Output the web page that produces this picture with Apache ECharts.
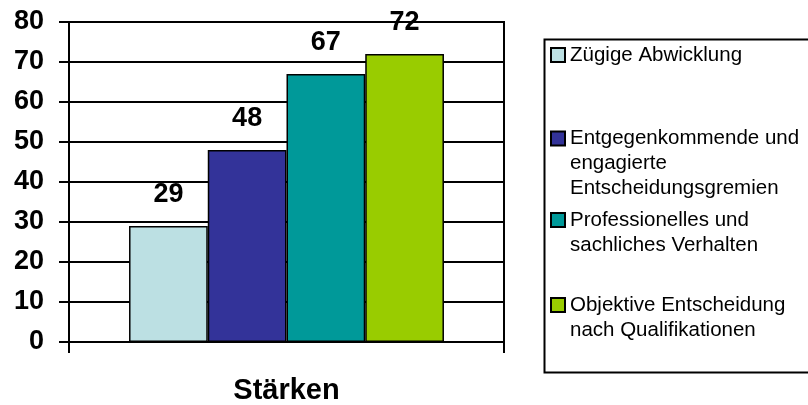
<!DOCTYPE html>
<html>
<head>
<meta charset="utf-8">
<script src="https://cdn.jsdelivr.net/npm/echarts@6/dist/echarts.min.js"></script>
<style>html,body{margin:0;padding:0;background:#fff}#c{width:808px;height:405px}</style>
</head>
<body>
<div id="c"></div>
<script>
var categories = ['Stärken'];
var seriesNames = [
  'Zügige Abwicklung',
  'Entgegenkommende und\nengagierte\nEntscheidungsgremien',
  'Professionelles und\nsachliches Verhalten',
  'Objektive Entscheidung\nnach Qualifikationen'
];
var seriesValues = [[29], [48], [67], [72]];
var seriesColors = ['#BCE0E3', '#333399', '#009999', '#99CC00'];
var yTicks = {min: 0, max: 80, interval: 10};

var FONT = 'Liberation Sans, Arial, sans-serif';
var LH = 25, ICON = 14;
var iconCenters = [55, 138.5, 220, 305];

var series = seriesNames.map(function (n, i) {
  return {
    name: n,
    type: 'bar',
    data: seriesValues[i],
    barGap: '0%',
    barCategoryGap: '27.6%',
    itemStyle: {color: seriesColors[i], borderColor: '#000', borderWidth: 1.5},
    label: {show: true, position: 'top', distance: 18, color: '#000',
      fontFamily: FONT, fontWeight: 'bold', fontSize: 27},
    emphasis: {disabled: true},
    animation: false
  };
});

function padLines(name) {
  var lines = name.split('\n').length;
  var pre = '';
  for (var k = 1; k < lines; k++) pre += '\n';
  return pre + name;
}

var legends = seriesNames.map(function (n, i) {
  var lines = n.split('\n').length;
  var boundTop = Math.min(0, ICON / 2 - (2 * lines - 1) * LH / 2);
  return {
    data: [n],
    orient: 'vertical',
    left: 550,
    top: iconCenters[i] - ICON / 2 + boundTop,
    padding: 0,
    itemWidth: ICON,
    itemHeight: ICON,
    icon: 'rect',
    selectedMode: false,
    formatter: padLines,
    textStyle: {fontFamily: FONT, fontSize: 20.5, color: '#000', lineHeight: LH}
  };
});

var chart = echarts.init(document.getElementById('c'));
chart.setOption({
  animation: false,
  backgroundColor: '#fff',
  grid: {left: 69, right: 304, top: 22, bottom: 62, show: true,
    borderColor: '#000', borderWidth: 2, backgroundColor: 'transparent'},
  xAxis: {
    type: 'category',
    data: categories,
    axisLine: {show: true, lineStyle: {color: '#000', width: 2}},
    axisTick: {show: true, length: 11, lineStyle: {color: '#000', width: 2}},
    axisLabel: {color: '#000', fontFamily: FONT, fontWeight: 'bold', fontSize: 29, margin: 34}
  },
  yAxis: {
    type: 'value',
    min: yTicks.min, max: yTicks.max, interval: yTicks.interval,
    axisLine: {show: true, lineStyle: {color: '#000', width: 2}},
    axisTick: {show: true, length: 10, lineStyle: {color: '#000', width: 2}},
    splitLine: {show: true, lineStyle: {color: '#000', width: 2}},
    axisLabel: {color: '#000', fontFamily: FONT, fontWeight: 'bold', fontSize: 27, margin: 25}
  },
  legend: legends,
  graphic: [{
    type: 'rect', left: 542, top: 37, silent: true,
    shape: {width: 300, height: 333},
    style: {fill: 'none', stroke: '#000', lineWidth: 2}
  }],
  series: series
});
</script>
</body>
</html>
